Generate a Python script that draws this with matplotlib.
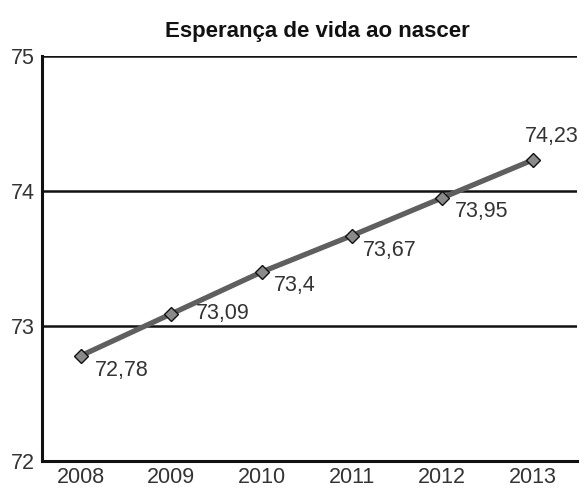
import matplotlib.pyplot as plt

plt.rcParams['font.family'] = ['Liberation Sans', 'DejaVu Sans']

anos = ['2008', '2009', '2010', '2011', '2012', '2013']
esperanca = [72.78, 73.09, 73.4, 73.67, 73.95, 74.23]
rotulos = ['72,78', '73,09', '73,4', '73,67', '73,95', '74,23']
# deslocamento dos rótulos (pontos)
offsets = [(10, -11), (18, 0), (9, -10), (8, -11), (9, -10), (-6, 17)]

fig = plt.figure(figsize=(5.87, 4.94), dpi=100)
ax = fig.add_axes([0.0716, 0.0668, 0.9114, 0.8198])

x = list(range(len(anos)))
ax.plot(x, esperanca, color='#5f5f5f', lw=3.8, zorder=3,
        marker='D', markersize=7, markerfacecolor='#8a8a8a',
        markeredgecolor='#111111', markeredgewidth=1.0)

for xi, yi, txt, off in zip(x, esperanca, rotulos, offsets):
    ax.annotate(txt, (xi, yi), xytext=off, textcoords='offset points',
                ha='left', va='center', fontsize=15.5, color='#333333')

ax.set_xlim(-0.43, 5.49)
ax.set_ylim(72, 75)
ax.set_yticks([72, 73, 74, 75])
ax.set_xticks(x)
ax.set_xticklabels(anos)
ax.tick_params(length=0, labelsize=15.5, colors='#333333')
ax.tick_params(axis='y', pad=5)
ax.tick_params(axis='x', pad=4)

for v in [73, 74, 75]:
    ax.axhline(v, color='#111111', lw=1.8, zorder=1)

for s in ['top', 'right']:
    ax.spines[s].set_visible(False)
for s in ['left', 'bottom']:
    ax.spines[s].set_linewidth(2.2)
    ax.spines[s].set_color('#111111')

ax.set_title('Esperança de vida ao nascer', fontsize=16, fontweight='bold',
             pad=14, x=0.515, color='#111111')

fig.savefig('out.png', dpi=100)
